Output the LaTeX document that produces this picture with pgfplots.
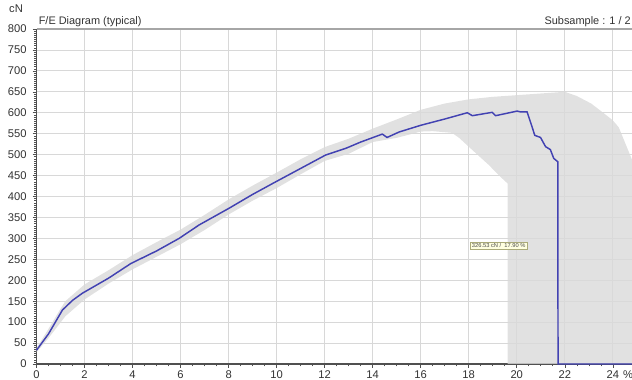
\documentclass[border=0pt]{standalone}
\usepackage{pgfplots}
\pgfplotsset{compat=1.18}
\usepackage{fontspec}
\setmainfont{Liberation Sans}
\definecolor{curve}{RGB}{66,66,178}
\definecolor{gridc}{RGB}{216,216,216}
\definecolor{bandc}{RGB}{218,218,218}
\definecolor{axc}{RGB}{80,80,80}
\begin{document}
\begin{tikzpicture}
\begin{axis}[
  name=ax,
  scale only axis,
  width=446.6pt, height=251.25pt,
  xmin=0, xmax=24.8, ymin=0, ymax=800,
  xtick={0,2,...,24}, ytick={0,50,...,800},
  minor x tick num=3, minor y tick num=9,
  axis lines=left, axis line style={-, draw=axc, line width=0.8pt},
  tick align=outside,
  major tick length=3pt, minor tick length=1.8pt,
  every tick/.style={draw=axc, line width=0.4pt},
  grid=major, major grid style={draw=gridc, line width=0.6pt},
  ticklabel style={font=\fontsize{8.4}{10}\selectfont, text=black!80},
  /pgf/number format/assume math mode=true,
  /pgf/number format/1000 sep={},
  xticklabel style={yshift=1.6pt},
  yticklabel style={xshift=-1pt},
  clip=false,
]
% scatter envelope (grey band)
\addplot[draw=none, fill=bandc, fill opacity=0.8] coordinates {
 (0,38) (0.5,84) (1,132) (1.2,150) (2,190) (3,224) (4,260) (5,291) (6,321)
 (7,356) (8,393) (9,426) (10,457) (11,489) (12,518) (13,538) (14,562)
 (15,584) (16,607) (17,622) (18,632) (19,638) (20,642) (21,646) (22,650)
 (22.5,640) (23.1,622) (23.6,600) (24.0,582) (24.25,565) (24.5,530) (24.8,488)
 (24.8,0) (19.62,0) (19.62,431) (19.3,448) (18.84,475) (18.15,511) (17.6,540)
 (17.3,552) (16.5,556) (16,555) (15,540) (14,530) (13,502) (12,485) (11,453) (10,420)
 (9,390) (8,357) (7,320) (6,286) (5,256) (4,226) (3,192) (2,154) (1.2,114)
 (1,99) (0.5,62) (0,28)
} -- cycle;
% F/E curve
\addplot[draw=curve, line width=1.1pt] coordinates {
 (0,33) (0.5,72) (1.08,129) (1.5,152) (1.91,169) (3,205) (3.93,240) (5,270)
 (5.94,300) (6.77,332) (8.02,372) (9,405) (9.96,435) (11,467) (12.04,499)
 (12.88,515) (13.5,530) (14.4,549) (14.6,541) (15.1,554) (16.0,570) (17.0,585)
 (17.94,600) (18.15,593) (18.98,601) (19.12,593) (19.53,598) (20.02,604)
 (20.16,602) (20.43,602) (20.64,566) (20.75,546) (20.99,541) (21.2,519)
 (21.4,512) (21.54,491) (21.71,483) (21.72,0) (24.8,0)
};
\draw[draw=gray!70, line width=0.9pt] (axis cs:0,800) -- (axis cs:24.8,800);
\node[fill={rgb,255:red,255;green,255;blue,224}, draw={rgb,255:red,170;green,170;blue,120},
  line width=0.3pt, inner sep=1pt, font=\fontsize{4.3}{5}\selectfont, text=black!70]
  at (axis cs:19.25,283) {326.53 cN /\ \ 17.90 \%};
\node[anchor=base west, inner sep=0pt, font=\fontsize{8.4}{10}\selectfont, text=black!80]
  at (axis cs:24.42,0) [yshift=-11.2pt] {\%};
\end{axis}
\node[anchor=base, font=\fontsize{8.4}{10}\selectfont, text=black!80] at ([shift={(-15.4pt,12.5pt)}]ax.north west) {cN};
\node[anchor=base west, inner sep=0pt, font=\fontsize{8.2}{10}\selectfont, text=black!80] at ([shift={(1.5pt,3pt)}]ax.north west) {F/E Diagram (typical)};
\node[anchor=base east, inner sep=0pt, font=\fontsize{8.2}{10}\selectfont, text=black!80] at ([shift={(-0.8pt,3pt)}]ax.north east) {Subsample : 1 / 2};
\pgfresetboundingbox
\path[use as bounding box] ([shift={(-27.4pt,-12pt)}]ax.south west) rectangle ([shift={(0pt,21.75pt)}]ax.north east);
\end{tikzpicture}
\end{document}
